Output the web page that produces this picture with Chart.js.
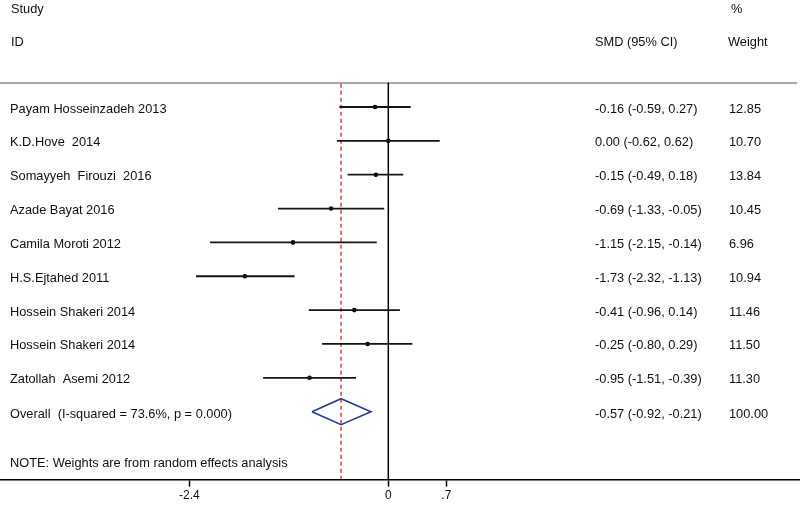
<!DOCTYPE html>
<html>
<head>
<meta charset="utf-8">
<script src="https://cdn.jsdelivr.net/npm/chart.js@4.4.1/dist/chart.umd.min.js"></script>
<style>
  html, body { margin: 0; padding: 0; background: #fff; }
</style>
</head>
<body>
<canvas id="forest" width="800" height="505"></canvas>
<script>
// study rows, top to bottom
const studies = [
    'Payam Hosseinzadeh 2013',
    'K.D.Hove  2014',
    'Somayyeh  Firouzi  2016',
    'Azade Bayat 2016',
    'Camila Moroti 2012',
    'H.S.Ejtahed 2011',
    'Hossein Shakeri 2014',
    'Hossein Shakeri 2014',
    'Zatollah  Asemi 2012'
];
const smd = [-0.16, 0.00, -0.15, -0.69, -1.15, -1.73, -0.41, -0.25, -0.95];
const ciLow = [-0.59, -0.62, -0.49, -1.33, -2.15, -2.32, -0.96, -0.80, -1.51];
const ciHigh = [0.27, 0.62, 0.18, -0.05, -0.14, -1.13, 0.14, 0.29, -0.39];
const weights = [12.85, 10.70, 13.84, 10.45, 6.96, 10.94, 11.46, 11.50, 11.30];

// pooled (random effects) result
const overallLabel = 'Overall  (I-squared = 73.6%, p = 0.000)';
const overallSmd = -0.57;
const overallLow = -0.92;
const overallHigh = -0.21;
const overallWeight = 100.00;

const tickValues = [-2.4, 0, 0.7];
const tickLabels = ['-2.4', '0', '.7'];

// scale ranges so that the plot lines up with the page
const xMin = -4.684;
const xMax = 4.966;
const yMin = -3.161;
const yMax = 11.007;
const headerRuleY = -0.72;
const overallRow = studies.length;

const FONT = '12.8px "Liberation Sans", Arial, sans-serif';
const TEXT = '#111';

const fmt = v => v.toFixed(2);
const ciText = (e, l, h) => `${fmt(e)} (${fmt(l)}, ${fmt(h)})`;

const datasets = [];

// CI whiskers
studies.forEach((s, i) => {
    datasets.push({
        data: [{ x: ciLow[i], y: i }, { x: ciHigh[i], y: i }],
        showLine: true,
        borderColor: '#151515',
        borderWidth: 1.8,
        pointRadius: 0
    });
});

// point estimates
datasets.push({
    data: smd.map((v, i) => ({ x: v, y: i })),
    pointRadius: 2.3,
    pointBackgroundColor: '#000',
    pointBorderColor: '#000',
    pointBorderWidth: 0
});

// pooled diamond
const halfH = 0.384;
datasets.push({
    data: [
        { x: overallLow, y: overallRow },
        { x: overallSmd, y: overallRow - halfH },
        { x: overallHigh, y: overallRow },
        { x: overallSmd, y: overallRow + halfH },
        { x: overallLow, y: overallRow }
    ],
    showLine: true,
    borderColor: '#2e3a8c',
    borderWidth: 1.6,
    pointRadius: 0,
    tension: 0
});

// line of no effect
datasets.push({
    data: [{ x: 0, y: headerRuleY }, { x: 0, y: yMax }],
    showLine: true,
    borderColor: '#000',
    borderWidth: 1.5,
    pointRadius: 0
});

// pooled estimate (dashed)
datasets.push({
    data: [{ x: overallSmd, y: headerRuleY + 0.03 }, { x: overallSmd, y: yMax }],
    showLine: true,
    borderColor: '#c0282d',
    borderWidth: 1.3,
    borderDash: [4, 3],
    pointRadius: 0
});

const forestText = {
    id: 'forestText',
    beforeDatasetsDraw(chart) {
        const { ctx, scales: { y } } = chart;
        ctx.save();
        ctx.strokeStyle = '#a8a8a8';
        ctx.lineWidth = 1.8;
        const ry = Math.round(y.getPixelForValue(headerRuleY));
        ctx.beginPath();
        ctx.moveTo(0, ry);
        ctx.lineTo(797, ry);
        ctx.stroke();
        ctx.restore();
    },
    afterDatasetsDraw(chart) {
        const { ctx, scales: { y } } = chart;
        ctx.save();
        ctx.font = FONT;
        ctx.fillStyle = TEXT;
        ctx.textBaseline = 'middle';
        ctx.textAlign = 'left';

        // headers
        ctx.fillText('Study', 11, 9);
        ctx.fillText('ID', 11, 42);
        ctx.fillText('%', 731, 9);
        ctx.fillText('SMD (95% CI)', 595, 42);
        ctx.fillText('Weight', 728, 42);

        studies.forEach((s, i) => {
            const py = y.getPixelForValue(i) + 2;
            ctx.fillText(s, 10, py);
            ctx.fillText(ciText(smd[i], ciLow[i], ciHigh[i]), 595, py);
            ctx.fillText(fmt(weights[i]), 729, py);
        });

        const oy = y.getPixelForValue(overallRow) + 3;
        ctx.fillText(overallLabel, 10, oy);
        ctx.fillText(ciText(overallSmd, overallLow, overallHigh), 595, oy);
        ctx.fillText(fmt(overallWeight), 729, oy);

        ctx.fillText('NOTE: Weights are from random effects analysis', 10, 463);
        ctx.restore();
    }
};

new Chart(document.getElementById('forest'), {
    type: 'scatter',
    data: { datasets },
    plugins: [forestText],
    options: {
        responsive: false,
        animation: false,
        layout: { padding: 0, autoPadding: false },
        plugins: {
            legend: { display: false },
            tooltip: { enabled: false }
        },
        scales: {
            x: {
                type: 'linear',
                min: xMin,
                max: xMax,
                afterBuildTicks: scale => {
                    scale.ticks = tickValues.map(v => ({ value: v }));
                },
                grid: {
                    drawOnChartArea: false,
                    drawTicks: true,
                    tickLength: 7,
                    tickColor: '#000',
                    tickWidth: 1.5
                },
                border: { color: '#000', width: 1.5 },
                ticks: {
                    padding: 2,
                    color: TEXT,
                    font: { family: '"Liberation Sans", Arial, sans-serif', size: 12 },
                    callback: value => tickLabels[tickValues.indexOf(value)] ?? ''
                }
            },
            y: {
                type: 'linear',
                display: false,
                reverse: true,
                min: yMin,
                max: yMax
            }
        }
    }
});
</script>
</body>
</html>
